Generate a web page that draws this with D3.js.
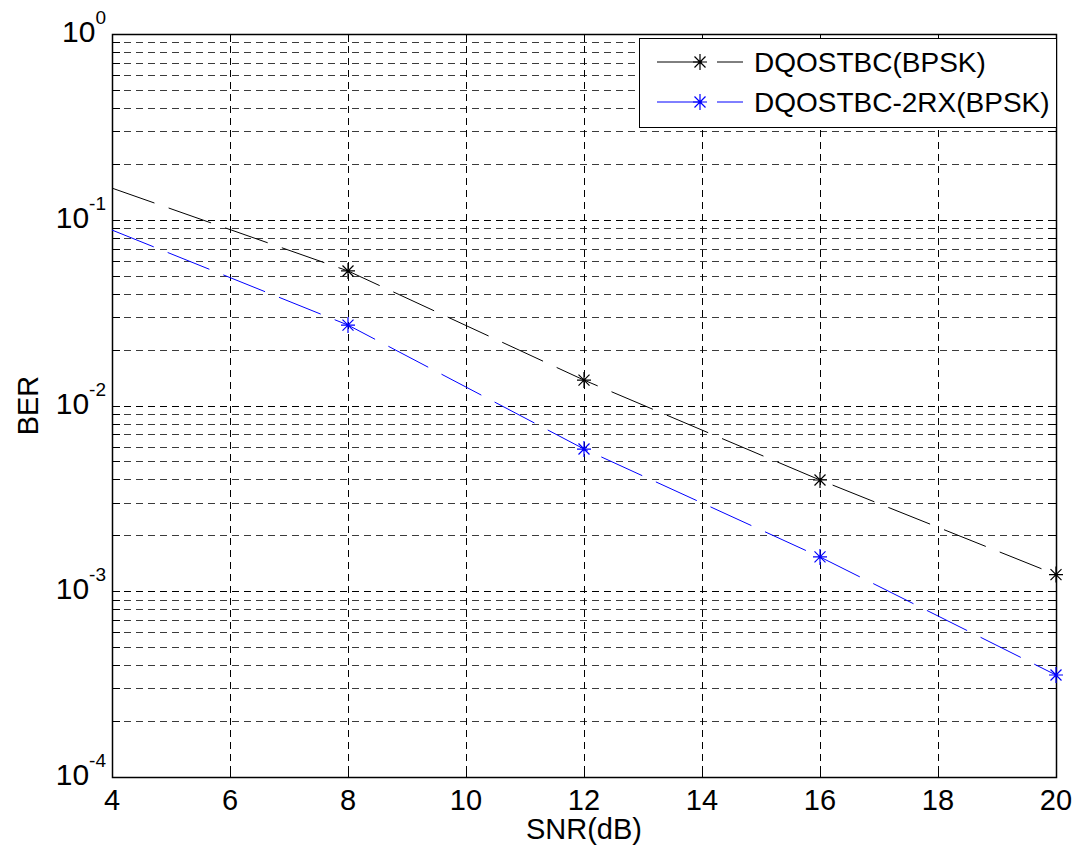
<!DOCTYPE html>
<html>
<head>
<meta charset="utf-8">
<script src="https://cdn.jsdelivr.net/npm/d3@7/dist/d3.min.js"></script>
<style>
  html, body { margin: 0; padding: 0; background: #fff; }
  svg { display: block; font-family: "Liberation Sans", Arial, sans-serif; }
</style>
</head>
<body>
<svg id="chart" width="1076" height="852"></svg>
<script>
// BER vs SNR for differential quasi-orthogonal STBC, BPSK
const snr = [4, 8, 12, 16, 20];
const markedSNR = [8, 12, 16, 20];
const berOneRx = [0.148, 0.053, 0.0137, 0.00397, 0.00123];
const berTwoRx = [0.088, 0.0271, 0.00583, 0.00153, 0.000354];
const seriesNames = ["DQOSTBC(BPSK)", "DQOSTBC-2RX(BPSK)"];
const seriesColors = ["#000000", "#0000ff"];
const xTicks = [4, 6, 8, 10, 12, 14, 16, 18, 20];
const yExponents = [0, -1, -2, -3, -4];

const svg = d3.select("#chart");
const m = { left: 112, top: 34, right: 1056, bottom: 777 };
const W = m.right - m.left, H = m.bottom - m.top;

const x = d3.scaleLinear().domain([4, 20]).range([m.left, m.right]);
const y = d3.scaleLog().domain([1e-4, 1]).range([m.bottom, m.top]);

// log minor positions 2..9 within each decade
const minor = [];
for (let e = -4; e < 0; e++) for (let k = 2; k <= 9; k++) minor.push(k * Math.pow(10, e));
const major = yExponents.map(e => Math.pow(10, e));

const grid = svg.append("g").attr("stroke-dasharray", "7,5").attr("fill", "none");
grid.selectAll(".ymin").data(minor).join("line")
  .attr("x1", m.left).attr("x2", m.right)
  .attr("y1", d => Math.round(y(d)) + 0.5).attr("y2", d => Math.round(y(d)) + 0.5)
  .attr("stroke", "#3c3c3c").attr("stroke-width", 1);
grid.selectAll(".ymaj").data(major.filter(d => d > 1e-4 && d < 1)).join("line")
  .attr("x1", m.left).attr("x2", m.right)
  .attr("y1", d => Math.round(y(d)) + 0.5).attr("y2", d => Math.round(y(d)) + 0.5)
  .attr("stroke", "#000").attr("stroke-width", 1);
grid.selectAll(".xg").data(xTicks.filter(d => d > 4 && d < 20)).join("line")
  .attr("x1", d => Math.round(x(d)) + 0.5).attr("x2", d => Math.round(x(d)) + 0.5)
  .attr("y1", m.top).attr("y2", m.bottom)
  .attr("stroke", "#000").attr("stroke-width", 1);

// axis ticks on all four sides, pointing inward
const tl = 8;
const ticks = svg.append("g").attr("stroke", "#000").attr("stroke-width", 1);
[...major, ...minor].forEach(v => {
  const yy = Math.round(y(v)) + 0.5;
  ticks.append("line").attr("x1", m.left).attr("x2", m.left + tl).attr("y1", yy).attr("y2", yy);
  ticks.append("line").attr("x1", m.right - tl).attr("x2", m.right).attr("y1", yy).attr("y2", yy);
});
xTicks.forEach(v => {
  const xx = Math.round(x(v)) + 0.5;
  ticks.append("line").attr("x1", xx).attr("x2", xx).attr("y1", m.bottom).attr("y2", m.bottom - tl);
  ticks.append("line").attr("x1", xx).attr("x2", xx).attr("y1", m.top).attr("y2", m.top + tl);
});

// plot box
svg.append("rect").attr("x", m.left + 0.5).attr("y", m.top + 0.5)
  .attr("width", W).attr("height", H)
  .attr("fill", "none").attr("stroke", "#000").attr("stroke-width", 1.5);

// tick labels
svg.append("g").selectAll("text").data(xTicks).join("text")
  .attr("x", d => x(d)).attr("y", 810)
  .attr("text-anchor", "middle").attr("font-size", 29).text(d => d);

const yl = svg.append("g").selectAll("text").data(yExponents).join("text")
  .attr("x", 106).attr("y", d => y(Math.pow(10, d)) + 8)
  .attr("text-anchor", "end").attr("font-size", 30);
yl.append("tspan").text("10");
yl.append("tspan").attr("dy", -18).attr("font-size", 19).text(d => d === 0 ? "0" : "-" + Math.abs(d));

// axis titles
svg.append("text").attr("x", (m.left + m.right) / 2).attr("y", 839)
  .attr("text-anchor", "middle").attr("font-size", 29).text("SNR(dB)");
svg.append("text").attr("transform", `translate(38,${(m.top + m.bottom) / 2}) rotate(-90)`)
  .attr("text-anchor", "middle").attr("font-size", 29).text("BER");

// series
const series = [berOneRx, berTwoRx].map((vals, i) => ({
  name: seriesNames[i], color: seriesColors[i],
  pts: snr.map((s, j) => ({ snr: s, ber: vals[j] }))
}));
const line = d3.line().x(d => x(d.snr)).y(d => y(d.ber));
const dash = "45,15";

function asterisk(g, cx, cy, color) {
  const a = 7, b = 5.5;
  const p = `M${cx - a},${cy}H${cx + a}M${cx},${cy - a - 1}V${cy + a + 1}` +
            `M${cx - b},${cy - b}L${cx + b},${cy + b}M${cx - b},${cy + b}L${cx + b},${cy - b}`;
  g.append("path").attr("d", p).attr("stroke", color).attr("stroke-width", 1.2).attr("fill", "none");
}

series.forEach(s => {
  svg.append("path").datum(s.pts).attr("d", line)
    .attr("fill", "none").attr("stroke", s.color).attr("stroke-width", 1)
    .attr("stroke-dasharray", dash);
  const mg = svg.append("g");
  s.pts.filter(d => markedSNR.includes(d.snr))
    .forEach(d => asterisk(mg, x(d.snr), y(d.ber), s.color));
});

// legend
const lg = svg.append("g");
lg.append("rect").attr("x", 639.5).attr("y", 38.5).attr("width", 417).attr("height", 89)
  .attr("fill", "#fff").attr("stroke", "#000").attr("stroke-width", 1);
series.forEach((s, i) => {
  const ly = 62 + i * 40;
  lg.append("line").attr("x1", 657).attr("x2", 743).attr("y1", ly).attr("y2", ly)
    .attr("stroke", s.color).attr("stroke-width", 1).attr("stroke-dasharray", dash);
  asterisk(lg, 700, ly, s.color);
  lg.append("text").attr("x", 754).attr("y", ly + 10).attr("font-size", 28).text(s.name);
});
</script>
</body>
</html>
